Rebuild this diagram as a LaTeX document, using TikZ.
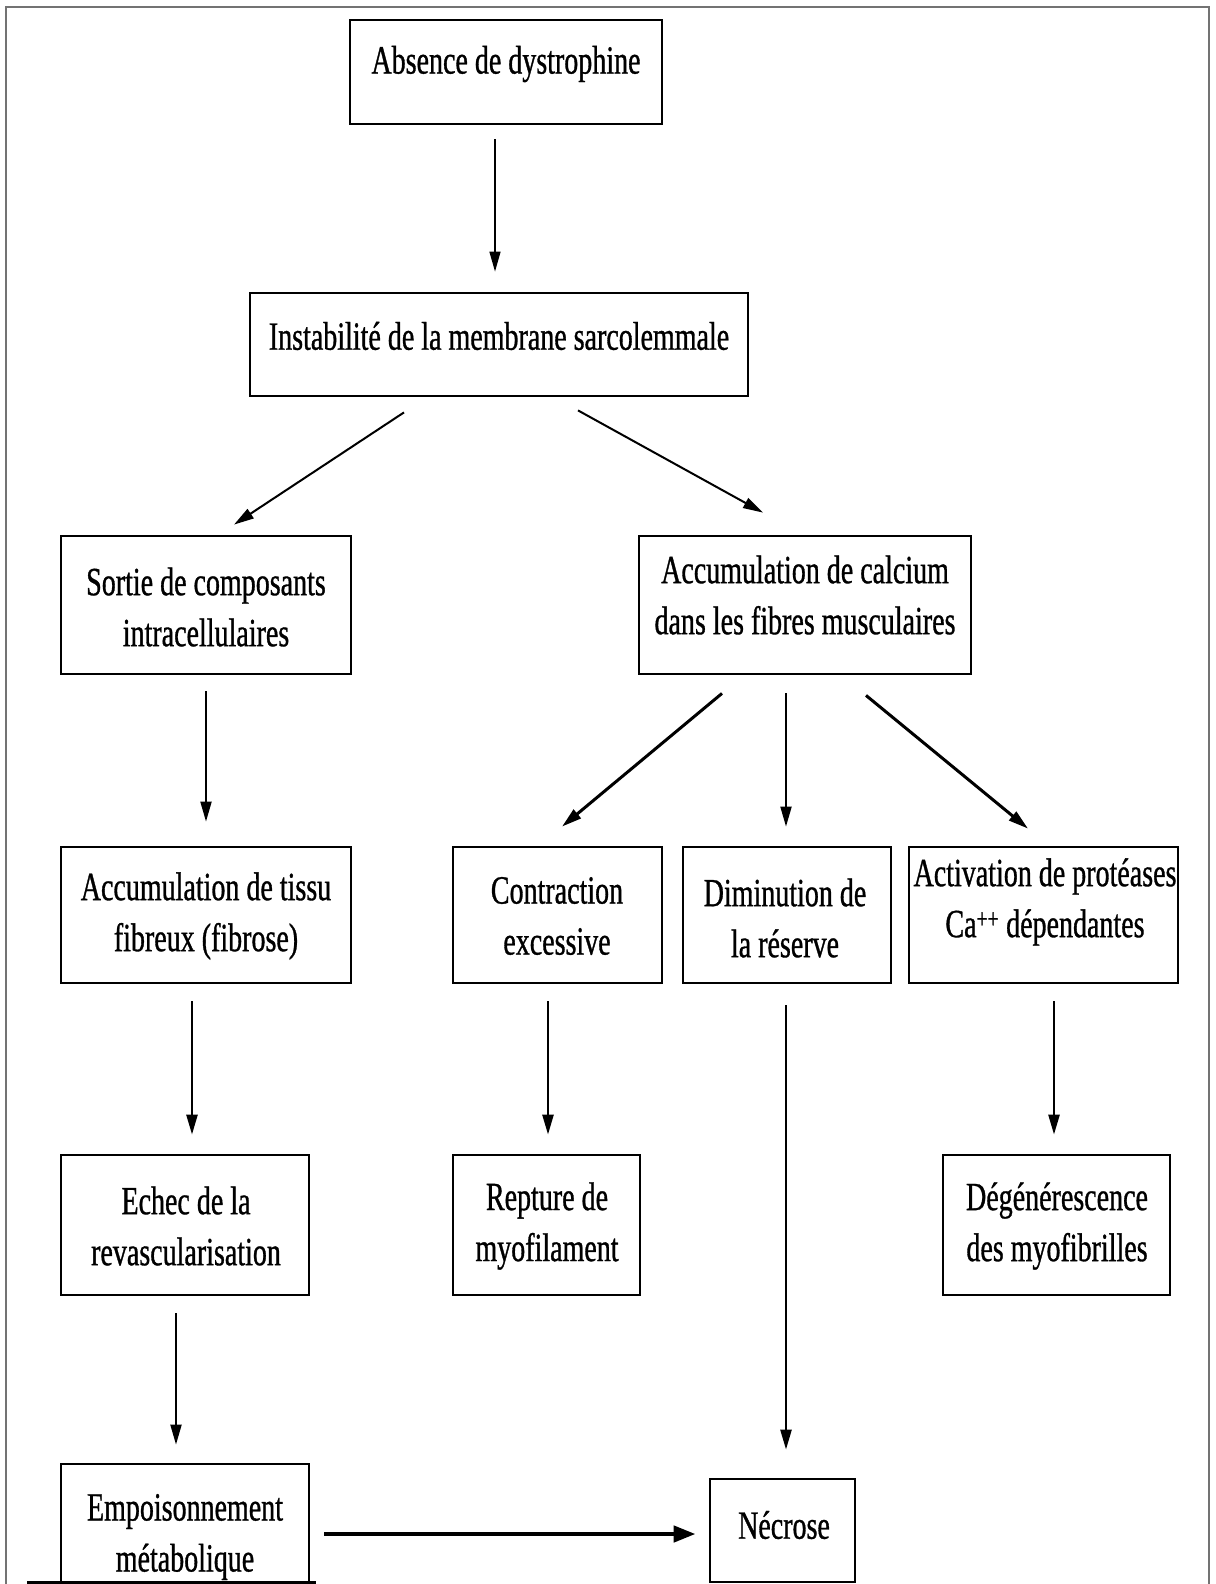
\documentclass[tikz,border=0pt]{standalone}
\usepackage{fontspec}
\setmainfont{Liberation Serif}[FakeStretch=0.7,FakeBold=0.8]
\usetikzlibrary{calc,arrows.meta}
\begin{document}
\begin{tikzpicture}[x=1pt,y=-1pt,
  box/.style={draw=black, line width=2.8pt, rectangle, inner sep=0pt},
  lbl/.style={align=center, inner sep=0pt, font=\fontsize{40}{51}\selectfont},
  arr/.style={-{Triangle[length=20pt,width=11pt]}, line width=2pt},
  thinarr/.style={arr, line width=1.4pt},
  boldarr/.style={arr, line width=3pt},
  heavyarr/.style={arr, line width=4.5pt, -{Triangle[length=22pt,width=16pt]}},
  frame/.style={draw=black!55, line width=2.6pt}
]
\path[use as bounding box] (0,0) rectangle (1215,1584);
\clip (0,0) rectangle (1215,1584);
\fill[white] (0,0) rectangle (1215,1584);

% outer frame (open at the bottom)
\draw[frame] (6,1600) -- (6,7) -- (1209,7) -- (1209,1600);

% boxes
\node[box, minimum width=312pt, minimum height=104pt] (A) at (506,72) {};
\node[lbl] (At) at (506,64) {Absence de dystrophine};

\node[box, minimum width=498pt, minimum height=103pt] (B) at (499,344.5) {};
\node[lbl] (Bt) at (499,336) {Instabilité de la membrane sarcolemmale};

\node[box, minimum width=290pt, minimum height=138pt] (C) at (206,605) {};
\node[lbl] (Ct) at (206,607) {Sortie de composants\\intracellulaires};

\node[box, minimum width=332pt, minimum height=138pt] (D) at (805,605) {};
\node[lbl] (Dt) at (805,595) {Accumulation de calcium\\dans les fibres musculaires};

\node[box, minimum width=290pt, minimum height=136pt] (E) at (206,915) {};
\node[lbl] (Et) at (206,916) {Accumulation de tissu\\fibreux (fibrose)};

\node[box, minimum width=209pt, minimum height=136pt] (F) at (557.5,915) {};
\node[lbl] (Ft) at (557,916) {Contraction\\excessive};

\node[box, minimum width=208pt, minimum height=136pt] (G) at (787,915) {};
\node[lbl] (Gt) at (785,918) {Diminution de\\la réserve};

\node[box, minimum width=269pt, minimum height=136pt] (H) at (1043.5,915) {};
\node[lbl] (Ht) at (1045,902) {Activation de protéases\\Ca\textsuperscript{++} dépendantes};

\node[box, minimum width=248pt, minimum height=140pt] (I) at (185,1225) {};
\node[lbl] (It) at (186,1226) {Echec de la\\revascularisation};

\node[box, minimum width=187pt, minimum height=140pt] (J) at (546.5,1225) {};
\node[lbl] (Jt) at (547,1226) {Repture de\\myofilament};

\node[box, minimum width=227pt, minimum height=140pt] (K) at (1056.5,1225) {};
\node[lbl] (Kt) at (1057,1226) {Dégénérescence\\des myofibrilles};

\node[box, minimum width=248pt, minimum height=136pt] (L) at (185,1532) {};
\node[lbl] (Lt) at (185,1537) {Empoisonnement\\métabolique};
\draw[black, line width=3pt] (27,1582) -- (316,1582);

\node[box, minimum width=145pt, minimum height=103pt] (M) at (782.5,1530.5) {};
\node[lbl] (Mt) at (784,1525) {Nécrose};

% connectors
\draw[thinarr] ($(A.south)+(-11,14)$) -- ($(B.north)+(-4,-20)$);
\draw[arr] ($(B.south)+(-95,15)$) -- ($(C.north)+(28,-10)$);
\draw[arr] ($(B.south)+(79,13)$) -- ($(D.north)+(-42,-22)$);
\draw[arr] ($(C.south)+(0,16)$) -- ($(E.north)+(0,-24)$);
\draw[boldarr] ($(D.south)+(-83,18)$) -- ($(F.north)+(4.5,-19)$);
\draw[arr] ($(D.south)+(-19,18)$) -- ($(G.north)+(-1,-19)$);
\draw[boldarr] ($(D.south)+(61,20)$) -- ($(H.north)+(-15.5,-17)$);
\draw[arr, line width=2.5pt] ($(E.south)+(-14,17)$) -- ($(I.north)+(7,-19)$);
\draw[arr, line width=2.5pt] ($(F.south)+(-9.5,17)$) -- ($(J.north)+(1.5,-19)$);
\draw[arr, line width=2.5pt] ($(H.south)+(10.5,17)$) -- ($(K.north)+(-2.5,-19)$);
\draw[arr] ($(I.south)+(-9,17)$) -- ($(L.north)+(-9,-18)$);
\draw[arr, line width=2.5pt] ($(G.south)+(-1,21)$) -- ($(M.north)+(3.5,-28)$);
\draw[heavyarr] ($(L.east)+(14,2)$) -- ($(M.west)+(-13,3.5)$);
\end{tikzpicture}
\end{document}
